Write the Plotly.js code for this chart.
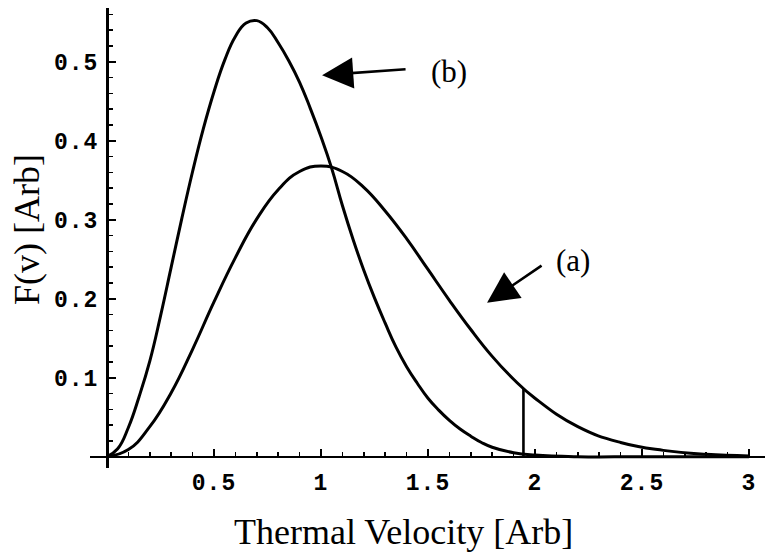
<!DOCTYPE html>
<html>
<head>
<meta charset="utf-8">
<script src="https://cdn.plot.ly/plotly-3.0.1.min.js"></script>
<style>
  html, body { margin: 0; padding: 0; background: #fff; }
  #chart { width: 765px; height: 558px; }
  .xtick text, .ytick text { letter-spacing: 1px; }
</style>
</head>
<body>
<div id="chart"></div>
<script>
// Curve (a)
const velA = [0, 0.1, 0.2, 0.3, 0.4, 0.5, 0.6, 0.7, 0.8, 0.9, 1.0, 1.1, 1.2, 1.3, 1.4, 1.5, 1.6, 1.7, 1.8, 1.9, 2.0, 2.2, 2.4, 2.6, 2.8, 3.0];
const fA   = [0, 0.009, 0.038, 0.081, 0.136, 0.196, 0.252, 0.301, 0.338, 0.361, 0.368, 0.361, 0.341, 0.311, 0.276, 0.237, 0.198, 0.161, 0.127, 0.098, 0.074, 0.038, 0.018, 0.008, 0.003, 0.001];
// Curve (b)
const velB = [0, 0.05, 0.1, 0.15, 0.2, 0.25, 0.3, 0.35, 0.4, 0.45, 0.5, 0.55, 0.6, 0.65, 0.7, 0.75, 0.8, 0.85, 0.9, 0.95, 1.0, 1.05, 1.1, 1.15, 1.2, 1.25, 1.3, 1.35, 1.4, 1.45, 1.5, 1.55, 1.6, 1.65, 1.7, 1.75, 1.8, 1.9, 2.0, 2.2, 2.5, 3.0];
const fB   = [0, 0.010, 0.037, 0.076, 0.121, 0.178, 0.240, 0.302, 0.361, 0.415, 0.462, 0.502, 0.532, 0.549, 0.552, 0.543, 0.524, 0.501, 0.474, 0.441, 0.405, 0.365, 0.318, 0.275, 0.236, 0.201, 0.169, 0.139, 0.114, 0.093, 0.074, 0.059, 0.046, 0.035, 0.026, 0.018, 0.012, 0.005, 0.002, 0.0, 0.0, 0.0];
// Vertical marker
const markerV = [1.946, 1.946];
const markerF = [0, 0.087];
// Tick labels
const xTickVals = [0.5, 1, 1.5, 2, 2.5, 3];
const xTickText = ['0.5', '1', '1.5', '2', '2.5', '3'];
const yTickVals = [0.1, 0.2, 0.3, 0.4, 0.5];
const yTickText = ['0.1', '0.2', '0.3', '0.4', '0.5'];

const lineStyle = {color: '#000', width: 3, shape: 'spline', smoothing: 1.3};

const traces = [
  {x: velA, y: fA, mode: 'lines', line: lineStyle, name: '(a)', hoverinfo: 'skip'},
  {x: velB, y: fB, mode: 'lines', line: lineStyle, name: '(b)', hoverinfo: 'skip'},
  {x: markerV, y: markerF, mode: 'lines', line: {color: '#000', width: 2.6}, hoverinfo: 'skip'}
];

const tickFont = {family: '"Liberation Mono", "DejaVu Sans Mono", monospace', size: 23, color: '#000', weight: 'bold'};
const serif = '"Liberation Serif", "Times New Roman", serif';

const layout = {
  width: 765, height: 558,
  margin: {l: 90, r: 0, t: 8, b: 90},
  paper_bgcolor: '#fff', plot_bgcolor: '#fff',
  showlegend: false,
  xaxis: {
    range: [-0.0794, 3.0748],
    anchor: 'free', position: 0.0246,
    showgrid: false, zeroline: false,
    showline: true, linecolor: '#000', linewidth: 2.5,
    ticks: 'inside', ticklen: 7, tickwidth: 2, tickcolor: '#000',
    tickmode: 'array', tickvals: xTickVals, ticktext: xTickText,
    tickfont: tickFont, ticklabelstandoff: 4,
    minor: {tickmode: 'linear', tick0: 0, dtick: 0.1, ticks: 'inside', ticklen: 4, tickwidth: 1.5, tickcolor: '#000', showgrid: false}
  },
  yaxis: {
    range: [-0.0143, 0.568],
    anchor: 'free', position: 0.0252,
    showgrid: false, zeroline: false,
    showline: true, linecolor: '#000', linewidth: 2.5,
    ticks: 'inside', ticklen: 7, tickwidth: 2, tickcolor: '#000',
    tickmode: 'array', tickvals: yTickVals, ticktext: yTickText,
    tickfont: tickFont, ticklabelstandoff: 3,
    minor: {tickmode: 'linear', tick0: 0, dtick: 0.02, ticks: 'inside', ticklen: 4, tickwidth: 1.5, tickcolor: '#000', showgrid: false}
  },
  annotations: [
    {xref: 'paper', yref: 'paper', x: (403 - 90) / 675, y: (558 - 532 - 90) / 460, text: 'Thermal Velocity [Arb]',
     showarrow: false, font: {family: serif, size: 36, color: '#000'}, xanchor: 'center', yanchor: 'middle'},
    {xref: 'paper', yref: 'paper', x: (27 - 90) / 675, y: (468 - 230) / 460, text: 'F(v) [Arb]', textangle: -90,
     showarrow: false, font: {family: serif, size: 36, color: '#000'}, xanchor: 'center', yanchor: 'middle'},
    {xref: 'x', yref: 'y', x: 1.597, y: 0.487, text: '(b)', showarrow: false,
     font: {family: serif, size: 31, color: '#000'}, xanchor: 'center', yanchor: 'middle'},
    {xref: 'x', yref: 'y', x: 2.178, y: 0.249, text: '(a)', showarrow: false,
     font: {family: serif, size: 31, color: '#000'}, xanchor: 'center', yanchor: 'middle'},
    {xref: 'x', yref: 'y', x: 1.005, y: 0.483, ax: 85, ay: -6, text: '', showarrow: true,
     arrowhead: 2, arrowsize: 2.4, arrowwidth: 2.6, arrowcolor: '#000', standoff: 0, startstandoff: 0},
    {xref: 'x', yref: 'y', x: 1.776, y: 0.195, ax: 56, ay: -38, text: '', showarrow: true,
     arrowhead: 2, arrowsize: 2.4, arrowwidth: 2.6, arrowcolor: '#000', standoff: 0, startstandoff: 0}
  ]
};

Plotly.newPlot('chart', traces, layout, {staticPlot: true, displayModeBar: false});
</script>
</body>
</html>
